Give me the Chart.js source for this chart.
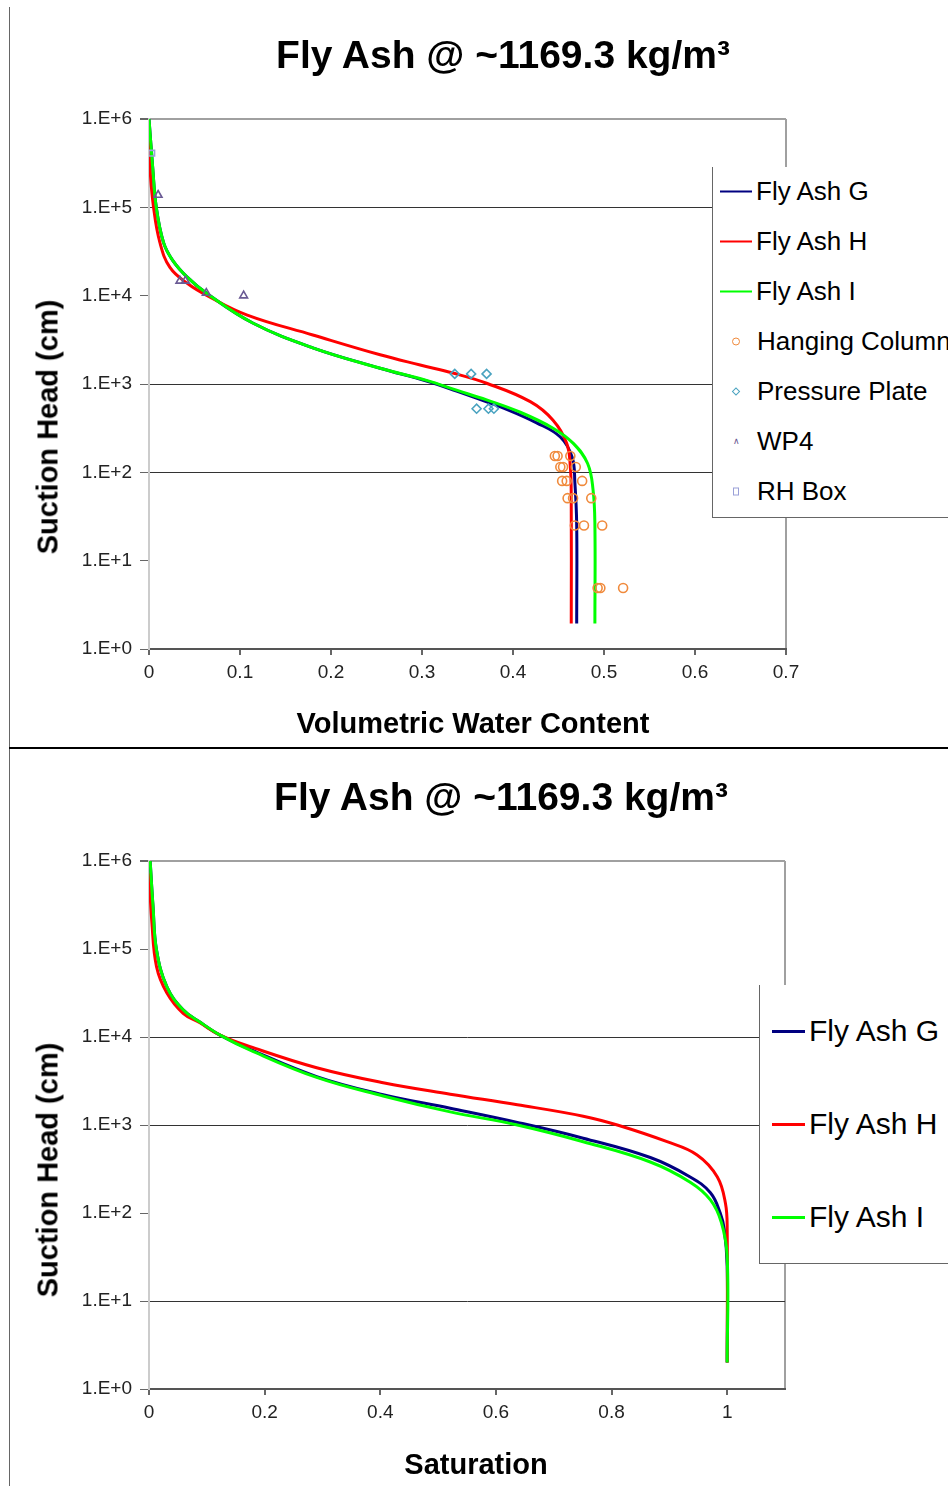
<!DOCTYPE html>
<html>
<head>
<meta charset="utf-8">
<script src="https://cdn.jsdelivr.net/npm/chart.js@4.4.1/dist/chart.umd.min.js"></script>
<style>
  body { margin: 0; width: 948px; height: 1486px; overflow: hidden; background: #fff;
         position: relative; font-family: "Liberation Sans", Arial, sans-serif; color: #000; }
  canvas { position: absolute; left: 0; }
  .txt { position: absolute; white-space: nowrap; font-weight: bold; transform: translate(-50%, -50%); }
  .ytitle { transform: translate(-50%, -50%) rotate(-90deg); }
  .sep-v { position: absolute; left: 9px; top: 7px; width: 1px; height: 1479px; background: #666; }
  .sep-h { position: absolute; left: 9px; top: 747px; width: 939px; height: 2px; background: #000; }
  .legend { position: absolute; background: #fff; border-left: 1px solid #666; border-bottom: 1px solid #666; }
  .item { position: absolute; left: 0; display: flex; align-items: center; transform: translateY(-50%); white-space: nowrap; }
  .sw { display: flex; align-items: center; justify-content: center; }
</style>
</head>
<body>
<div class="sep-v"></div>
<canvas id="chart-vwc" width="948" height="748" style="top:0"></canvas>
<canvas id="chart-sat" width="948" height="738" style="top:748px"></canvas>
<div class="sep-h"></div>

<div class="txt" style="left:503px;top:55px;font-size:39px">Fly Ash @ ~1169.3 kg/m³</div>
<div class="txt ytitle" style="left:48px;top:427px;font-size:29px">Suction Head (cm)</div>
<div class="txt" style="left:473px;top:723px;font-size:29px">Volumetric Water Content</div>

<div class="txt" style="left:501px;top:797px;font-size:39px">Fly Ash @ ~1169.3 kg/m³</div>
<div class="txt ytitle" style="left:48px;top:1170px;font-size:29px">Suction Head (cm)</div>
<div class="txt" style="left:476px;top:1464px;font-size:29px">Saturation</div>

<div id="legend-vwc" class="legend" style="left:712px;top:167px;width:260px;height:350px"></div>
<div id="legend-sat" class="legend" style="left:759px;top:985px;width:220px;height:278px"></div>

<script>
'use strict';

// ─── Axis ticks ───────────────────────────────────────────────────────────────

const headTicks      = [1, 10, 100, 1000, 10000, 100000, 1000000];
const headTickLabels = ['1.E+0', '1.E+1', '1.E+2', '1.E+3', '1.E+4', '1.E+5', '1.E+6'];
const vwcTicks       = [0, 0.1, 0.2, 0.3, 0.4, 0.5, 0.6, 0.7];
const vwcTickLabels  = ['0', '0.1', '0.2', '0.3', '0.4', '0.5', '0.6', '0.7'];
const satTicks       = [0, 0.2, 0.4, 0.6, 0.8, 1];
const satTickLabels  = ['0', '0.2', '0.4', '0.6', '0.8', '1'];

// ─── Top chart: volumetric water content vs suction head (cm) ────────────────

const vwcG  = [0, 0.004, 0.008, 0.016, 0.026, 0.042, 0.064, 0.114, 0.180, 0.254, 0.305, 0.338, 0.365, 0.389, 0.426, 0.452, 0.465, 0.468, 0.470, 0.470];
const headG = [1000000, 288000, 100000, 39800, 25100, 16200, 10500, 4900, 2570, 1510, 1080, 832, 661, 537, 363, 251, 148, 76, 25, 1.95];

const vwcH  = [0, 0.001, 0.005, 0.012, 0.023, 0.042, 0.064, 0.108, 0.180, 0.254, 0.298, 0.334, 0.371, 0.419, 0.444, 0.459, 0.463, 0.464, 0.464];
const headH = [759000, 288000, 100000, 39800, 20900, 13800, 10000, 6030, 3590, 2140, 1640, 1330, 1020, 631, 389, 214, 115, 49, 1.95];

const vwcI  = [0, 0.004, 0.008, 0.016, 0.026, 0.042, 0.064, 0.114, 0.180, 0.254, 0.305, 0.338, 0.371, 0.408, 0.444, 0.466, 0.482, 0.488, 0.490, 0.490];
const headI = [1000000, 288000, 100000, 39800, 25100, 16200, 10500, 4900, 2570, 1510, 1100, 851, 661, 479, 316, 214, 126, 63, 25, 1.95];

const hangVwc  = [0.446, 0.449, 0.463, 0.452, 0.455, 0.469, 0.454, 0.459, 0.476, 0.460, 0.466, 0.486, 0.468, 0.478, 0.498, 0.493, 0.496, 0.521];
const hangHead = [153, 153, 153, 115, 115, 115, 80, 80, 80, 51, 51, 51, 25, 25, 25, 4.9, 4.9, 4.9];

const plateVwc  = [0.336, 0.354, 0.371, 0.360, 0.373, 0.379];
const plateHead = [1300, 1300, 1300, 525, 525, 525];

const wp4Vwc  = [0.010, 0.034, 0.040, 0.063, 0.104];
const wp4Head = [138000, 14700, 14700, 10700, 10000];

const rhVwc  = [0.003];
const rhHead = [410000];

// ─── Bottom chart: saturation vs suction head (cm) ───────────────────────────

const satG     = [0.002, 0.007, 0.013, 0.031, 0.059, 0.088, 0.123, 0.175, 0.29, 0.405, 0.521, 0.637, 0.751, 0.867, 0.936, 0.971, 0.988, 0.995, 1.0, 1.0];
const satHeadG = [1000000, 302000, 97700, 37200, 20400, 14800, 10500, 7240, 3550, 2210, 1550, 1070, 708, 427, 257, 170, 100, 65, 25, 2];

const satH     = [0, 0.005, 0.013, 0.031, 0.059, 0.088, 0.123, 0.175, 0.29, 0.405, 0.521, 0.637, 0.751, 0.81, 0.896, 0.948, 0.983, 0.997, 1.0, 1.0];
const satHeadH = [724000, 200000, 63100, 31600, 18600, 14500, 10500, 7760, 4470, 3020, 2240, 1700, 1260, 1000, 646, 457, 257, 129, 65, 2];

const satI     = [0.002, 0.007, 0.013, 0.031, 0.059, 0.088, 0.123, 0.175, 0.29, 0.405, 0.521, 0.637, 0.751, 0.867, 0.936, 0.971, 0.990, 1.0, 1.0];
const satHeadI = [1000000, 302000, 97700, 37200, 20400, 14800, 10500, 7080, 3470, 2140, 1410, 1000, 646, 380, 224, 141, 78, 32, 2];

// ─── Helpers ──────────────────────────────────────────────────────────────────

const FONT = '"Liberation Sans", Arial, sans-serif';
const X_AXIS_H = 40;
const CLEAR = 'rgba(0,0,0,0)';

function pts(xs, ys) {
  return xs.map((x, i) => ({ x, y: ys[i] }));
}

function curve(label, color, xs, ys, order) {
  return {
    label, data: pts(xs, ys), showLine: true, borderColor: color, backgroundColor: color,
    borderWidth: 3, pointRadius: 0, tension: 0.4, order, kind: 'line',
  };
}

function markers(label, color, style, xs, ys, radius) {
  return {
    label, data: pts(xs, ys), showLine: false, pointStyle: style, pointRadius: radius,
    borderColor: color, backgroundColor: CLEAR, pointBorderWidth: 1.6, order: 0, kind: style,
  };
}

function makeChart(canvasId, box, xAxis, gridHeads, datasets) {
  const canvas = document.getElementById(canvasId);
  const W = canvas.width, H = canvas.height;
  const xMax = xAxis.max;

  return new Chart(canvas, {
    type: 'scatter',
    data: { datasets },
    options: {
      responsive: false,
      animation: false,
      events: [],
      layout: { padding: { left: 0, top: box.top, right: W - box.right, bottom: H - box.bottom - X_AXIS_H } },
      plugins: { legend: { display: false }, tooltip: { enabled: false } },
      scales: {
        x: {
          type: 'linear', min: 0, max: xMax,
          afterBuildTicks: s => { s.ticks = xAxis.ticks.concat(xAxis.ticks.includes(xMax) ? [] : [xMax]).map(v => ({ value: v })); },
          afterFit: s => { s.height = X_AXIS_H; },
          ticks: {
            autoSkip: false, maxRotation: 0, padding: 6, color: '#222', font: { family: FONT, size: 19 },
            callback: v => { const i = xAxis.ticks.indexOf(v); return i < 0 ? '' : xAxis.labels[i]; },
          },
          grid: {
            drawTicks: true, tickLength: 6, lineWidth: 2,
            color: c => (c.tick && c.tick.value === xMax ? '#a0a0a0' : CLEAR),
            tickColor: c => (c.tick && xAxis.ticks.includes(c.tick.value) ? '#666' : CLEAR),
          },
          border: { color: '#555', width: 2 },
        },
        y: {
          type: 'logarithmic', min: 1, max: 1000000,
          afterBuildTicks: s => { s.ticks = headTicks.map(v => ({ value: v })); },
          afterFit: s => { s.width = box.left; },
          ticks: {
            autoSkip: false, padding: 8, color: '#222', font: { family: FONT, size: 19 },
            callback: v => headTickLabels[headTicks.indexOf(v)],
          },
          grid: {
            drawTicks: true, tickLength: 9,
            color: c => {
              const v = c.tick && c.tick.value;
              if (v === 1000000) return '#a0a0a0';
              return gridHeads.includes(v) ? '#333' : CLEAR;
            },
            lineWidth: c => (c.tick && c.tick.value === 1000000 ? 2 : 1),
            tickColor: '#666',
          },
          border: { color: '#cccccc', width: 2 },
        },
      },
    },
  });
}

function swatch(ds, big) {
  const c = ds.borderColor;
  if (ds.kind === 'line') {
    return `<span class="sw" style="width:${big ? 33 : 32}px;margin-right:4px"><span style="display:block;width:100%;height:${big ? 3 : 2}px;background:${c}"></span></span>`;
  }
  let shape;
  if (ds.kind === 'circle') shape = `<span style="width:6px;height:6px;border:1px solid ${c};border-radius:50%"></span>`;
  else if (ds.kind === 'rectRot') shape = `<span style="width:4px;height:4px;border:1px solid ${c};transform:rotate(45deg)"></span>`;
  else if (ds.kind === 'triangle') shape = `<span style="font-size:9px;line-height:9px;color:${c}">&#8743;</span>`;
  else shape = `<span style="width:4px;height:6px;border:1px solid ${c}"></span>`;
  return `<span class="sw" style="width:32px;margin-right:5px">${shape}</span>`;
}

function buildLegend(el, datasets, opts) {
  el.innerHTML = '';
  datasets.forEach((ds, i) => {
    const div = document.createElement('div');
    div.className = 'item';
    div.style.top = (opts.first + i * opts.step) + 'px';
    div.style.left = opts.left + 'px';
    div.style.fontSize = opts.size + 'px';
    div.innerHTML = swatch(ds, opts.big) + `<span>${ds.label}</span>`;
    el.appendChild(div);
  });
}

// ─── Init ─────────────────────────────────────────────────────────────────────

Chart.defaults.font.family = FONT;

const vwcSets = [
  curve('Fly Ash G', '#000080', vwcG, headG, 3),
  curve('Fly Ash H', '#ff0000', vwcH, headH, 2),
  curve('Fly Ash I', '#00ff00', vwcI, headI, 1),
  markers('Hanging Column', '#f08a3c', 'circle', hangVwc, hangHead, 4.5),
  markers('Pressure Plate', '#4aa3c0', 'rectRot', plateVwc, plateHead, 4.5),
  markers('WP4', '#6a5a94', 'triangle', wp4Vwc, wp4Head, 4.5),
  markers('RH Box', '#9aa0d8', 'rect', rhVwc, rhHead, 4),
];

const satSets = [
  curve('Fly Ash G', '#000080', satG, satHeadG, 3),
  curve('Fly Ash H', '#ff0000', satH, satHeadH, 2),
  curve('Fly Ash I', '#00ff00', satI, satHeadI, 1),
];

makeChart('chart-vwc', { left: 149, right: 786, top: 119, bottom: 649 },
  { max: 0.7, ticks: vwcTicks, labels: vwcTickLabels }, [100, 1000, 100000], vwcSets);

makeChart('chart-sat', { left: 149, right: 785, top: 113, bottom: 641 },
  { max: 1.1, ticks: satTicks, labels: satTickLabels }, [10, 1000, 10000], satSets);

buildLegend(document.getElementById('legend-vwc'), vwcSets, { first: 24, step: 50, left: 7, size: 26, big: false });
buildLegend(document.getElementById('legend-sat'), satSets, { first: 46, step: 93, left: 12, size: 30, big: true });
</script>
</body>
</html>
